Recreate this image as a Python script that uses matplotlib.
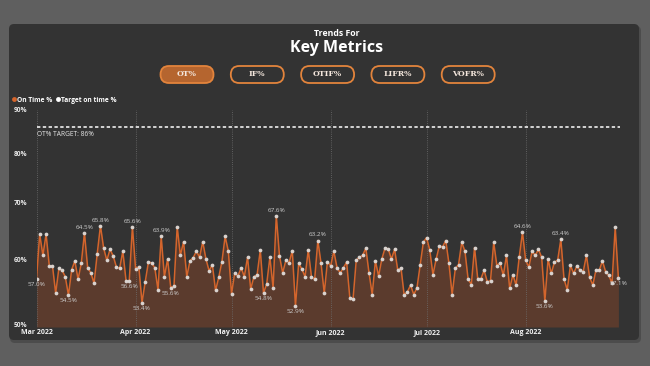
import numpy as np
import matplotlib.pyplot as plt
import matplotlib.dates as mdates
import pandas as pd
from matplotlib.patches import FancyBboxPatch
from matplotlib.lines import Line2D
from matplotlib.ticker import NullLocator

plt.rcParams['font.family'] = ['Open Sans', 'DejaVu Sans']

# daily on-time % (Mar 1 - Aug 30 2022)
dates = pd.date_range('2022-03-01', '2022-08-30', freq='D')
on_time = [
    57.0, 64.3, 60.7, 64.3, 59.0, 59.0, 54.8, 58.6, 58.3, 57.3,
    54.5, 58.4, 59.8, 56.9, 59.4, 64.5, 58.7, 57.9, 56.3, 61.0,
    65.8, 61.9, 59.9, 61.7, 60.6, 58.8, 58.6, 61.4, 56.7, 56.6,
    65.6,
    58.5, 58.9, 53.4, 56.5, 59.6, 59.5, 58.7, 55.3, 63.9, 57.3,
    60.1, 55.6, 55.9, 65.6, 60.7, 63.0, 57.3, 59.8, 60.3, 61.4,
    60.4, 63.0, 60.1, 58.2, 59.2, 55.2, 57.2, 59.7, 63.9, 61.4,
    54.7, 57.9, 57.4, 58.7, 57.3, 60.4, 55.4, 57.3, 57.6, 61.6,
    54.8, 56.2, 60.4, 55.6, 67.6, 60.6, 57.9, 59.9, 59.5, 61.5,
    52.9, 59.4, 58.5, 57.3, 61.6, 57.3, 56.9, 63.2, 59.4, 54.8,
    59.7,
    59.0, 61.4, 58.7, 57.9, 58.7, 59.6, 54.1, 53.9, 59.9, 60.4,
    60.7, 61.9, 57.9, 54.6, 59.8, 57.4, 60.1, 61.9, 61.8, 60.1,
    61.7, 58.3, 58.7, 54.5, 55.0, 56.0, 54.6, 55.6, 59.2, 62.9,
    63.7, 61.6, 57.6, 60.1, 62.3, 62.1, 63.2, 59.4, 54.6, 58.6,
    59.2, 62.9, 61.4, 56.9, 56.1, 62.0, 57.0, 57.0, 58.3, 56.5,
    56.7, 62.9, 59.0, 59.5, 57.5, 60.7, 55.5, 57.6, 56.0, 60.5,
    64.6,
    59.9, 58.8, 61.4, 60.7, 61.7, 60.4, 53.6, 60.1, 57.8, 59.6,
    59.9, 63.4, 56.9, 55.3, 59.1, 57.8, 59.0, 58.3, 58.1, 60.7,
    57.2, 56.0, 58.4, 58.3, 59.8, 58.1, 57.5, 56.3, 65.5, 57.1,
]
target = 86

# which points carry a data label, and on which side
label_idx = [0, 10, 15, 20, 29, 30, 33, 39, 42, 71, 75, 81, 88, 152, 159, 164, 182]
label_up = [False, False, True, True, False, True, False, True, False,
            False, True, False, True, True, False, True, False]

buttons = ['OT%', 'IF%', 'OTIF%', 'LIFR%', 'VOFR%']
yticks = [50, 60, 70, 80, 90]

fig = plt.figure(figsize=(6.5, 3.66), dpi=100)
fig.patch.set_facecolor('#5f5f5f')

# background layer in pixel coordinates
bg = fig.add_axes([0, 0, 1, 1])
bg.set_xlim(0, 650)
bg.set_ylim(366, 0)
bg.axis('off')
bg.add_patch(FancyBboxPatch((10, 26), 631, 317, boxstyle='round,pad=0,rounding_size=5',
                            fc='#4c4c4c', ec='none'))
bg.add_patch(FancyBboxPatch((9, 24), 630, 316, boxstyle='round,pad=0,rounding_size=5',
                            fc='#333333', ec='none'))
bg.text(337, 33.5, 'Trends For', ha='center', va='center', fontsize=6.3,
        fontweight='bold', color='white')
bg.text(337, 48.5, 'Key Metrics', ha='center', va='center', fontsize=11.5,
        fontweight='bold', color='white')

for k, name in enumerate(buttons):
    cx = 187 + 70.3 * k
    fc = '#b5652f' if k == 0 else '#333333'
    bg.add_patch(FancyBboxPatch((cx - 26.5, 66), 53, 17, boxstyle='round,pad=0,rounding_size=8.5',
                                fc=fc, ec='#e3843c', lw=1.3))
    bg.text(cx, 74.5, name, ha='center', va='center', fontsize=5.6, fontweight='bold',
            family='DejaVu Serif', color='#f3e6dc')

# main chart
ax = fig.add_axes([36.5 / 650, 1 - 327 / 366, (620 - 36.5) / 650, (327 - 110) / 366])
ax.patch.set_alpha(0)
ax.set_yscale('log')
ax.set_ylim(50, 90)
ax.set_xlim(dates[0], dates[-1] + pd.Timedelta(hours=12))

ax.fill_between(dates, on_time, 50, color='#5b3b2d', lw=0)
ax.plot(dates, on_time, color='#d4652c', lw=1.1, marker='o', ms=2.7,
        mfc='#d9d3cf', mec='none', zorder=3)
ax.axhline(target, color='white', lw=1.1, ls=(0, (2.2, 1.6)), zorder=3)
ax.annotate(f'OT% TARGET: {target}%', xy=(dates[0], target), xytext=(0, -3),
            textcoords='offset points', ha='left', va='top', fontsize=4.8,
            color='#e6e6e6')

for i, up in zip(label_idx, label_up):
    ax.annotate(f'{on_time[i]:.1f}%', xy=(dates[i], on_time[i]),
                xytext=(0, 2.2 if up else -2.2), textcoords='offset points',
                ha='center', va='bottom' if up else 'top', fontsize=4.6,
                color='#cfcfcf', zorder=4)

ax.set_yticks(yticks)
ax.set_yticklabels([f'{v}%' for v in yticks])
ax.yaxis.set_minor_locator(NullLocator())
ax.tick_params(axis='y', length=0, pad=16.5, labelsize=4.8, labelcolor='#e8e8e8')
for t in ax.get_yticklabels():
    t.set_ha('left')
    t.set_fontweight('bold')
ax.get_yticklabels()[0].set_va('baseline')

ax.xaxis.set_major_locator(mdates.MonthLocator())
ax.xaxis.set_major_formatter(mdates.DateFormatter('%b %Y'))
ax.tick_params(axis='x', length=0, pad=1.8, labelsize=5, labelcolor='#f0f0f0')
for t in ax.get_xticklabels():
    t.set_fontweight('bold')

ax.grid(axis='x', color='#6e6e6e', lw=0.6, ls=(0, (1, 1.6)))
ax.grid(axis='y', visible=False)
for s in ax.spines.values():
    s.set_visible(False)

handles = [Line2D([], [], ls='none', marker='o', ms=3.5, mfc='#d4652c', mec='none'),
           Line2D([], [], ls='none', marker='o', ms=3.5, mfc='white', mec='none')]
fig.legend(handles, ['On Time %', 'Target on time %'], loc='center left',
           bbox_to_anchor=(12 / 650, 1 - 100 / 366), ncol=2, frameon=False,
           prop={'weight': 'bold', 'size': 4.8}, labelcolor='white',
           handlelength=0.5, handletextpad=0.25, columnspacing=0.6,
           borderpad=0, borderaxespad=0)

fig.savefig('out.png', dpi=100, facecolor=fig.get_facecolor())
